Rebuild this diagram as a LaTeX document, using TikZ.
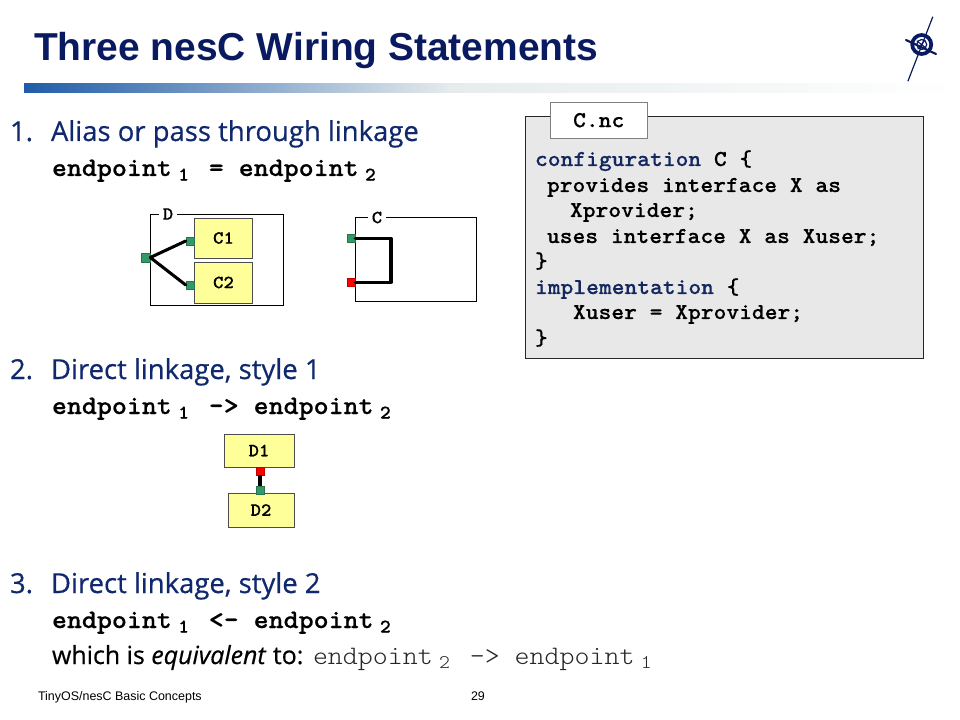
\documentclass[tikz,border=0pt]{standalone}
\usepackage{fontspec}
\setmainfont{Liberation Sans}
\newfontfamily\bodyfont[FakeBold=0.5]{Open Sans}
\newfontfamily\courbold[FakeStretch=1.07,BoldFeatures={FakeBold=0.4}]{Latin Modern Mono Light}[BoldFont=*/B]
\usetikzlibrary{calc}
\definecolor{navy}{HTML}{0A1A60}
\definecolor{bodyblue}{HTML}{10286E}
\definecolor{barblue}{HTML}{1F5CA8}
\definecolor{barmid}{HTML}{E6EBEC}
\definecolor{portgreen}{HTML}{339966}
\definecolor{portred}{HTML}{FF0000}
\definecolor{compyellow}{HTML}{FFFF99}
\definecolor{codegray}{HTML}{E8E8E8}
\definecolor{codeblue}{HTML}{14285F}
\newcommand{\sbs}[1]{\makebox[16.5pt][c]{\hspace{1.2pt}\raisebox{-3.4pt}{\fontsize{14.5pt}{15pt}\selectfont #1}}}
\tikzset{
  x=0.75pt,y=-0.75pt,
  txt/.style={anchor=base west,inner sep=0pt,outer sep=0pt},
  titletxt/.style={txt,font=\fontsize{29.2pt}{30pt}\bfseries,text=navy},
  itemtxt/.style={txt,font=\bodyfont\fontsize{20.6pt}{22pt}\selectfont,text=bodyblue},
  epoint/.style={txt,font=\courbold\bfseries\fontsize{20pt}{22pt}\selectfont,text=black},
  codetxt/.style={txt,font=\courbold\bfseries\fontsize{17.07pt}{18pt}\selectfont,text=black},
  codekey/.style={codetxt,text=codeblue},
  foot/.style={txt,font=\fontsize{9.35pt}{10pt}\selectfont,text=black},
  frame/.style={draw=black,line width=0.75pt,fill=white},
  comp/.style={draw=black!70,line width=0.6pt,fill=compyellow,font=\courbold\bfseries\fontsize{13.9pt}{14pt}\selectfont,inner sep=0pt},
  lbl/.style={fill=white,inner sep=3pt,font=\courbold\bfseries\fontsize{13.9pt}{14pt}\selectfont},
  port/.style={draw=#1!75!black,line width=0.4pt,minimum size=6pt,inner sep=0pt,fill=#1},
  wire/.style={draw=black,line width=2.3pt,line cap=round,line join=round},
}
\begin{document}
\begin{tikzpicture}
\useasboundingbox (0,0) rectangle (960,720);
\fill[white] (0,0) rectangle (960,720);
% title bar
\shade[left color=barblue,right color=barmid,shading angle=90] (24,84) rectangle (450,93);
\shade[left color=barmid,right color=white,shading angle=90] (450,84) rectangle (960,93);
\node[titletxt] (title) at (34,61) {Three nesC Wiring Statements};
% logo
\begin{scope}[navy,line cap=round]
\draw[line width=0.9pt] (932.7,17) -- (908,81);
\draw[line width=1.6pt] (906,40) -- (936,54);
\draw[line width=2.8pt] (921.7,44.5) circle (9.5);
\draw[line width=0.9pt] (921.7,44.5) circle (5);
\draw[line width=0.8pt] (917,41) -- (926,48) (925,40) -- (918,49);
\end{scope}
% items
\node[itemtxt] (n1) at (10,141) {1.};
\node[itemtxt] (t1) at (51,141) {Alias or pass through linkage};
\node[epoint] (e1) at (52,176) {endpoint\sbs{1} = endpoint\sbs{2}};
\node[itemtxt] (n2) at (10,379) {2.};
\node[itemtxt] (t2) at (51,379) {Direct linkage, style 1};
\node[epoint] (e2) at (52,414) {endpoint\sbs{1} -> endpoint\sbs{2}};
\node[itemtxt] (n3) at (10,593) {3.};
\node[itemtxt] (t3) at (51,593) {Direct linkage, style 2};
\node[epoint] (e3) at (52,628) {endpoint\sbs{1} <- endpoint\sbs{2}};
\node[txt,font=\bodyfont\fontsize{18.7pt}{20pt}\selectfont,text=black] (w) at (52,664) {which is \textit{equivalent} to:};
\node[txt,font=\courbold\fontsize{20pt}{22pt}\selectfont,text=black!85] (w2) at (313,664) {endpoint\sbs{2} -> endpoint\sbs{1}};
% D frame
\node[frame,minimum width=99.5pt,minimum height=68.8pt,inner sep=0pt] (D) at (217,260) {};
\node[lbl] (Dl) at (168,214) {D};
\node[comp,minimum width=44pt,minimum height=30pt] (C1) at (223.5,238) {C1};
\node[comp,minimum width=44pt,minimum height=30.7pt] (C2) at (223.5,282.5) {C2};
\node[port=portgreen,minimum size=6pt] (P1) at (190,241) {};
\node[port=portgreen,minimum size=6pt] (P2) at (190,285) {};
\node[port=portgreen,minimum size=6.8pt] (P0) at (145.5,257.5) {};
\draw[wire] (P0.east) -- (P1.west);
\draw[wire] (P0.east) -- (P2.west);
% C frame
\node[frame,minimum width=90.7pt,minimum height=63.4pt,inner sep=0pt] (Cf) at (416,259.7) {};
\node[lbl] (Cl) at (377,217.5) {C};
\node[port=portgreen] (Q1) at (351,238.5) {};
\node[port=portred] (Q2) at (351,282.5) {};
\coordinate (k1) at (391,238.5);
\coordinate (k2) at (391,282.5);
\draw[wire] (Q1.east) -- (k1) -- (k2) -- (Q2.east);
% D1 D2
\node[comp,minimum width=52.5pt,minimum height=24.7pt] (D1) at (259,450.5) {D1};
\node[comp,minimum width=49.5pt,minimum height=25.5pt] (D2) at (261,510) {D2};
\node[port=portred] (R) at (260,471) {};
\node[port=portgreen] (G) at (260,490) {};
\draw[wire,line cap=butt] (R.south) -- (G.north);
% code box
\node[draw=black!85,line width=0.75pt,fill=codegray,minimum width=298.5pt,minimum height=181.5pt,inner sep=0pt] (code) at (724.5,237.5) {};
\node[draw=black!50,line width=0.6pt,fill=white,minimum width=73pt,minimum height=27.4pt,inner sep=0pt,font=\courbold\bfseries\fontsize{17.07pt}{18pt}\selectfont] (tab) at (598.7,120.2) {C.nc};
\node[codekey] (l1) at (535,166) {configuration\textcolor{black}{\ C \{}};
\node[codetxt] (l2) at (547,192) {provides interface X as};
\node[codetxt] (l3) at (570,217) {Xprovider;};
\node[codetxt] (l4) at (547,243) {uses interface X as Xuser;};
\node[codetxt] (l5) at (535,268) {\}};
\node[codekey] (l6) at (535,294) {implementation\textcolor{black}{\ \{}};
\node[codetxt] (l7) at (573,319) {Xuser = Xprovider;};
\node[codetxt] (l8) at (535,345) {\}};
% footer
\node[foot] (f1) at (38,700) {TinyOS/nesC Basic Concepts};
\node[foot] (f2) at (471,700) {29};
\end{tikzpicture}
\end{document}
